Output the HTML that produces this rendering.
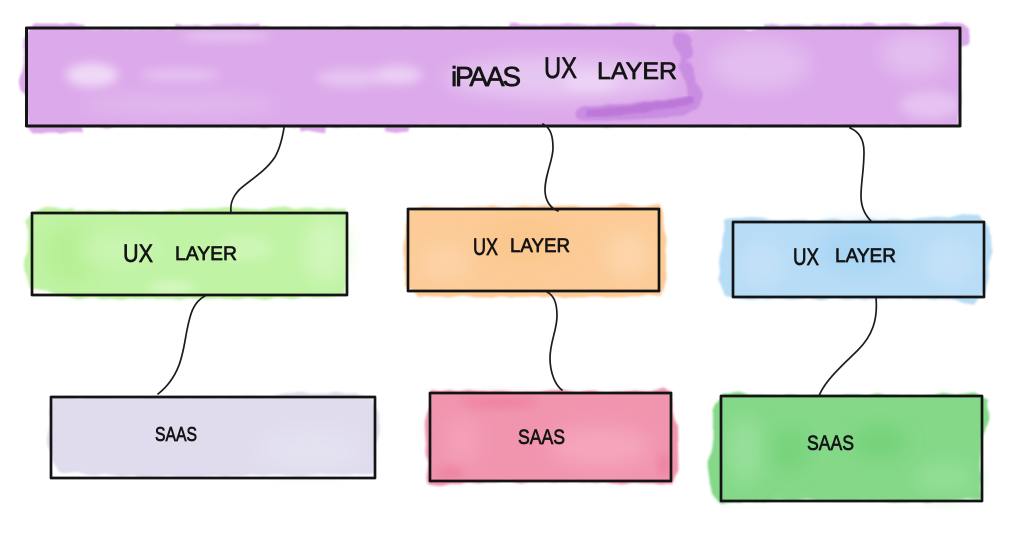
<!DOCTYPE html>
<html><head><meta charset="utf-8"><title>iPaaS UX layer</title>
<style>
html,body{margin:0;padding:0;background:#fff}
svg{display:block}
text{font-family:"Liberation Sans",sans-serif;fill:#141414;stroke:#141414;stroke-width:.7;stroke-linejoin:round}
.b{fill:none;stroke:#141414;stroke-width:2.7;stroke-linejoin:round}
.c{fill:none;stroke:#1c1c1c;stroke-width:1.7;stroke-linecap:round}
</style></head>
<body>
<svg width="1024" height="536" viewBox="0 0 1024 536" xmlns="http://www.w3.org/2000/svg">
<defs>
<filter id="r" x="-5%" y="-15%" width="110%" height="130%"><feTurbulence type="fractalNoise" baseFrequency=".07" numOctaves="1" seed="4"/><feDisplacementMap in="SourceGraphic" scale="6" xChannelSelector="R" yChannelSelector="G"/><feGaussianBlur stdDeviation="1"/></filter>
<filter id="s" x="-40%" y="-60%" width="180%" height="220%"><feGaussianBlur stdDeviation="9"/></filter>
<filter id="t" x="-40%" y="-80%" width="180%" height="260%"><feGaussianBlur stdDeviation="5"/></filter>
<filter id="d" x="-10%" y="-20%" width="120%" height="140%"><feTurbulence type="fractalNoise" baseFrequency=".1" numOctaves="1" seed="9"/><feDisplacementMap in="SourceGraphic" scale="4" xChannelSelector="R" yChannelSelector="G"/><feGaussianBlur stdDeviation="1.1"/></filter>
<clipPath id="cp"><rect x="28" y="30" width="930" height="95"/></clipPath>
</defs>
<rect width="1024" height="536" fill="#fff"/>

<!-- purple -->
<g filter="url(#r)"><path d="M33 24H85V29H175V25H260V27H510V24H655V29H765V25H850V24H962L969 28V44L961 46V94L958 126H410V132H385V127H325V132H300V127H82V133H34L27 127V98L20 92V76L24 62L23 38Z" fill="#dca9ea"/></g>
<g clip-path="url(#cp)">
<ellipse cx="92" cy="75" rx="26" ry="12" fill="#efd9f7" filter="url(#t)"/>
<ellipse cx="180" cy="75" rx="40" ry="6" fill="#e6c5f2" filter="url(#t)"/>
<ellipse cx="350" cy="78" rx="34" ry="9" fill="#e6c5f2" filter="url(#t)"/>
<ellipse cx="398" cy="75" rx="24" ry="9" fill="#ebd0f5" filter="url(#t)"/>
<ellipse cx="225" cy="36" rx="45" ry="4" fill="#e8caf3" filter="url(#t)"/>
<ellipse cx="560" cy="78" rx="115" ry="22" fill="#e6c6f2" filter="url(#s)"/>
<ellipse cx="590" cy="82" rx="28" ry="9" fill="#edd4f6" filter="url(#t)"/>
<ellipse cx="180" cy="105" rx="100" ry="10" fill="#e1b9ee" filter="url(#s)"/>
<ellipse cx="760" cy="65" rx="50" ry="25" fill="#e3bdf0" filter="url(#s)"/>
<ellipse cx="915" cy="55" rx="35" ry="22" fill="#e3bdf0" filter="url(#s)"/>
<ellipse cx="930" cy="105" rx="30" ry="14" fill="#e5c2f1" filter="url(#t)"/>
</g>
<path d="M677 33C688 31 693 38 691 46C695 52 693 58 686 60C693 64 695 72 695 82C703 86 704 100 697 108C690 116 670 117 650 118C625 121 600 121 580 120C572 117 573 109 584 107C620 104 660 101 686 97C691 90 684 76 678 67C684 60 680 54 675 47C670 42 672 36 677 33Z" fill="#c98ee1" filter="url(#d)"/>
<path d="M587 114C620 111 660 107 694 99" stroke="#bb72d8" stroke-width="8" fill="none" filter="url(#d)" opacity=".8"/>
<rect class="b" x="26.5" y="28" width="933.5" height="98" style="stroke-width:3"/>

<!-- green -->
<g filter="url(#r)"><path d="M46 208H72L75 211H160L230 208H346V296L270 299H110L70 298L30 288L24 270L28 240L27 222L33 212Z" fill="#c0f3a4"/></g>
<ellipse cx="70" cy="255" rx="26" ry="30" fill="#b6f095" filter="url(#s)"/>
<ellipse cx="120" cy="250" rx="40" ry="16" fill="#c9f5b0" filter="url(#s)"/>
<ellipse cx="245" cy="248" rx="28" ry="12" fill="#cdf6b6" filter="url(#t)"/>
<ellipse cx="172" cy="287" rx="24" ry="5" fill="#dcf9c9" filter="url(#t)"/>
<ellipse cx="325" cy="250" rx="20" ry="32" fill="#d1f7bc" filter="url(#s)"/>
<rect class="b" x="32" y="213" width="315" height="82"/>

<!-- orange -->
<g filter="url(#r)"><path d="M408 209L440 207H520L620 205H660L666 235V280L660 296L610 297H420L405 284L404 240Z" fill="#fccb97"/></g>
<ellipse cx="628" cy="255" rx="22" ry="24" fill="#fdd5aa" filter="url(#s)"/>
<ellipse cx="445" cy="262" rx="26" ry="20" fill="#fdd2a5" filter="url(#s)"/>
<ellipse cx="525" cy="240" rx="45" ry="24" fill="#fbc78e" filter="url(#s)"/>
<rect class="b" x="408" y="209" width="251" height="82"/>

<!-- blue -->
<g filter="url(#r)"><path d="M725 218H760L810 220H900L980 214L988 228L992 250L986 290L975 304L950 299H735L726 296L718 280L722 240Z" fill="#b7dcf6"/></g>
<ellipse cx="762" cy="265" rx="22" ry="24" fill="#c3e1f8" filter="url(#s)"/>
<ellipse cx="950" cy="262" rx="25" ry="24" fill="#c3e1f8" filter="url(#s)"/>
<ellipse cx="860" cy="250" rx="42" ry="24" fill="#a9d6f4" filter="url(#s)"/>
<rect class="b" x="733" y="222" width="251" height="75"/>

<!-- lilac -->
<g filter="url(#r)"><path d="M51 397H270L285 393H355L372 398L380 415V430L376 445L374 475H330L150 477L60 472L52 460L48 445Z" fill="#e0dcee"/></g>
<ellipse cx="310" cy="450" rx="50" ry="20" fill="#e4e1f1" filter="url(#s)"/>
<rect class="b" x="51" y="397" width="324" height="81"/>

<!-- pink -->
<g filter="url(#r)"><path d="M432 391H560L645 391L665 388L672 394V412L678 425L679 470L672 484H645L560 482H470L440 486L428 484L426 450L424 425Z" fill="#f195af"/></g>
<ellipse cx="600" cy="447" rx="50" ry="20" fill="#f5a5bb" filter="url(#s)"/>
<ellipse cx="462" cy="440" rx="16" ry="24" fill="#f4a0b8" filter="url(#s)"/>
<ellipse cx="500" cy="402" rx="40" ry="6" fill="#ef829d" filter="url(#t)"/>
<ellipse cx="450" cy="473" rx="14" ry="5" fill="#ec7f9b" filter="url(#t)"/>
<ellipse cx="664" cy="465" rx="5" ry="12" fill="#ec7f9b" filter="url(#t)"/>
<rect class="b" x="430" y="393" width="241" height="88"/>

<!-- green 2 -->
<g filter="url(#r)"><path d="M722 392L760 395H900L975 393L988 400L989 420L981 440V498L930 502L800 500L745 502L722 503L712 495L708 470L713 440L713 410Z" fill="#84d888"/></g>
<ellipse cx="745" cy="450" rx="18" ry="34" fill="#95df99" filter="url(#s)"/>
<ellipse cx="945" cy="478" rx="30" ry="16" fill="#93de97" filter="url(#s)"/>
<ellipse cx="880" cy="442" rx="26" ry="16" fill="#74d279" filter="url(#s)"/>
<ellipse cx="790" cy="450" rx="18" ry="22" fill="#78d37c" filter="url(#s)"/>
<rect class="b" x="721" y="396" width="261" height="105"/>

<!-- connectors -->
<path class="c" d="M284 128C282 140 279 150 275 157C265 172 250 180 240 189C233 196 230 203 231 212"/>
<path class="c" d="M543 124C551 128 553 137 553 148C553 160 545 175 545 190C545 200 550 208 558 211"/>
<path class="c" d="M850 128C860 132 864 141 864 152C864 170 861 182 861 196C861 208 866 216 871 221"/>
<path class="c" d="M205 296C193 302 190 315 187 330C183 350 182 375 158 394"/>
<path class="c" d="M547 292C555 296 557 305 557 316C557 330 550 342 550 358C550 372 555 385 562 390"/>
<path class="c" d="M876 298C878 320 872 336 858 350C845 363 825 380 819 396"/>

<!-- labels -->
<text x="451" y="86" font-size="28" textLength="70" lengthAdjust="spacing">iPAAS</text>
<text x="544" y="78" font-size="30" textLength="33" lengthAdjust="spacingAndGlyphs">UX</text>
<text x="597" y="79" font-size="24" textLength="80" lengthAdjust="spacingAndGlyphs">LAYER</text>

<text x="123" y="262" font-size="25" textLength="30" lengthAdjust="spacingAndGlyphs">UX</text>
<text x="175" y="260" font-size="19" textLength="62" lengthAdjust="spacingAndGlyphs">LAYER</text>

<text x="473" y="255" font-size="24" textLength="25" lengthAdjust="spacingAndGlyphs">UX</text>
<text x="510" y="252" font-size="19" textLength="60" lengthAdjust="spacingAndGlyphs">LAYER</text>

<text x="793" y="265" font-size="24" textLength="26" lengthAdjust="spacingAndGlyphs">UX</text>
<text x="835" y="262" font-size="19" textLength="61" lengthAdjust="spacingAndGlyphs">LAYER</text>

<text x="155" y="441" font-size="20" textLength="42" lengthAdjust="spacingAndGlyphs">SAAS</text>
<text x="518" y="444" font-size="21" textLength="47" lengthAdjust="spacingAndGlyphs">SAAS</text>
<text x="807" y="450" font-size="21" textLength="47" lengthAdjust="spacingAndGlyphs">SAAS</text>
</svg>
</body></html>
